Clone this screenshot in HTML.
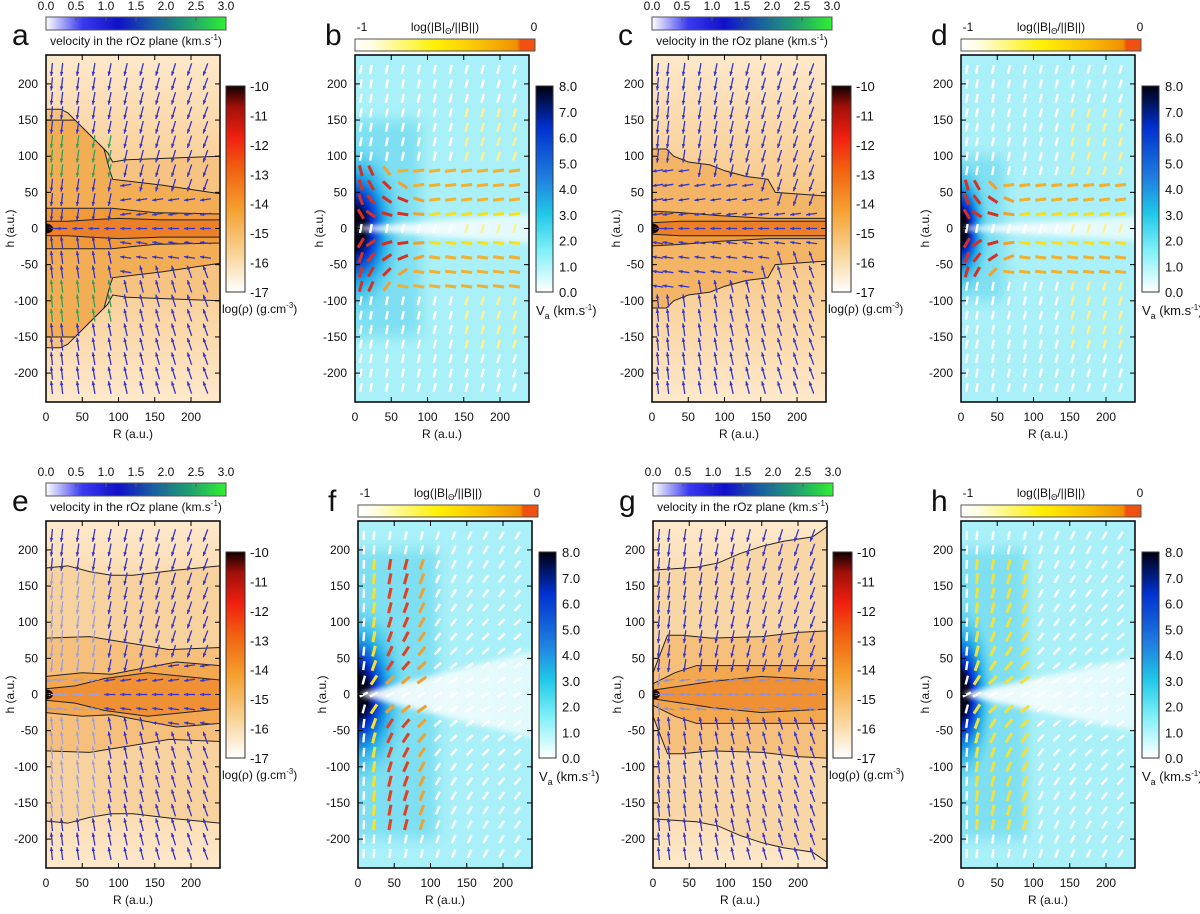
<!DOCTYPE html>
<html><head><meta charset="utf-8"><style>
body{margin:0;background:#fff;}
svg text{font-family:"Liberation Sans",sans-serif;}
</style></head><body>
<svg id="fig" xmlns="http://www.w3.org/2000/svg" width="1200" height="909" viewBox="0 0 1200 909">
<defs>
<filter id="blur" x="-50%" y="-50%" width="200%" height="200%"><feGaussianBlur stdDeviation="7"/></filter>
<filter id="blur2" x="-50%" y="-50%" width="200%" height="200%"><feGaussianBlur stdDeviation="3"/></filter>
<linearGradient id="gVel" x1="0" x2="1" y1="0" y2="0"><stop offset="0" stop-color="#ffffff"/><stop offset="0.2" stop-color="#3a3af0"/><stop offset="0.4" stop-color="#1010c8"/><stop offset="0.6" stop-color="#1a60a0"/><stop offset="0.8" stop-color="#20a070"/><stop offset="1" stop-color="#30f030"/></linearGradient>
<linearGradient id="gB" x1="0" x2="1" y1="0" y2="0"><stop offset="0" stop-color="#ffffff"/><stop offset="0.1" stop-color="#fffde0"/><stop offset="0.45" stop-color="#fff000"/><stop offset="0.7" stop-color="#f8c000"/><stop offset="0.9" stop-color="#f09000"/><stop offset="0.92" stop-color="#f05010"/><stop offset="1" stop-color="#f05010"/></linearGradient>
<linearGradient id="gRho" x1="0" x2="0" y1="1" y2="0"><stop offset="0" stop-color="#ffffff"/><stop offset="0.2" stop-color="#f8d090"/><stop offset="0.4" stop-color="#f5a030"/><stop offset="0.6" stop-color="#f06010"/><stop offset="0.75" stop-color="#f02010"/><stop offset="0.9" stop-color="#a01008"/><stop offset="1" stop-color="#100000"/></linearGradient>
<linearGradient id="gVa" x1="0" x2="0" y1="1" y2="0"><stop offset="0" stop-color="#ffffff"/><stop offset="0.2" stop-color="#80f0f8"/><stop offset="0.38" stop-color="#20c8e8"/><stop offset="0.55" stop-color="#2080e0"/><stop offset="0.8" stop-color="#0030d0"/><stop offset="1" stop-color="#000010"/></linearGradient>
<linearGradient id="gBgRho" x1="0" x2="0" y1="0" y2="1"><stop offset="0" stop-color="#fde9cc"/><stop offset="0.35" stop-color="#f9cd92"/><stop offset="0.5" stop-color="#f6bb70"/><stop offset="0.65" stop-color="#f9cd92"/><stop offset="1" stop-color="#fde9cc"/></linearGradient>
<radialGradient id="gCore" cx="0.5" cy="0.5" r="0.5"><stop offset="0" stop-color="#000010"/><stop offset="0.2" stop-color="#000020"/><stop offset="0.35" stop-color="#0030d0"/><stop offset="0.6" stop-color="#20a8e8"/><stop offset="1" stop-color="#60d8f0" stop-opacity="0"/></radialGradient>
<linearGradient id="gWedge" x1="0" x2="1" y1="0" y2="0"><stop offset="0" stop-color="#ffffff" stop-opacity="0.95"/><stop offset="1" stop-color="#ffffff" stop-opacity="0.6"/></linearGradient>
</defs>
</svg>
<script>
// ---- data arrays ----
const rTicks=[0,50,100,150,200];
const hTicks=[-200,-150,-100,-50,0,50,100,150,200];
const velTicks=['0.0','0.5','1.0','1.5','2.0','2.5','3.0'];
const rhoTicks=['-10','-11','-12','-13','-14','-15','-16','-17'];
const vaTicks=['8.0','7.0','6.0','5.0','4.0','3.0','2.0','1.0','0.0'];
const gridR=[8,22,44,66,88,110,132,154,176,198,220];
const gridH=[-220,-200,-180,-160,-140,-120,-100,-80,-60,-40,-20,0,20,40,60,80,100,120,140,160,180,200,220];
const contA_R=[0,20,30,50,70,85,92,110,240], contA_H=[165,165,160,140,120,105,92,95,100];
const envA_R=[0,40,60,80,88,92,160,240], envA_H=[150,150,130,110,80,68,60,48];
const diskA_R=[0,60,90,150,240], diskA_H=[28,28,28,22,20];
const coreA_R=[0,30,60,100,160,240], coreA_H=[10,10,12,14,12,12];
const contC_R=[0,20,30,50,80,100,130,160,170,240], contC_H=[110,110,100,92,88,80,72,68,50,45];
const diskC_R=[0,40,90,160,240], diskC_H=[24,22,18,14,14];
const coreC_R=[0,40,80,150,240], coreC_H=[8,10,10,10,10];
const contE_R=[0,30,60,90,120,180,240], contE_H=[175,178,170,165,165,172,178];
const envE_R=[0,60,110,170,240], envE_H=[78,80,72,62,65];
const diskE_R=[0,50,90,180,240], diskE_H=[25,30,28,45,40];
const coreE_R=[0,40,80,140,240], coreE_H=[8,12,22,30,20];
const contG_R=[0,60,90,120,150,180,220,240], contG_H=[172,176,182,195,205,212,218,232];
const envG_R=[0,20,40,80,150,200,240], envG_H=[30,82,82,78,80,86,88];
const diskG_R=[0,30,60,120,240], diskG_H=[15,30,40,40,40];
const coreG_R=[0,40,80,150,240], coreG_H=[6,12,18,25,20];

const NS='http://www.w3.org/2000/svg';
const svg=document.getElementById('fig');
function mk(tag,attrs,parent){const e=document.createElementNS(NS,tag);for(const k in attrs)e.setAttribute(k,attrs[k]);(parent||svg).appendChild(e);return e;}
function txt(x,y,s,size,anchor,parent){const t=mk('text',{x:x,y:y,'font-size':size,'text-anchor':anchor||'start',fill:'#111'},parent);t.textContent=s;return t;}

const W=174,H=347;
function panel(letter,L,T,type,cfg){
  const g=mk('g',{});
  
  
  const sx=r=>L+r/240*W, sy=h=>T+H/2-h/240*(H/2);
  const clip='clip'+letter;
  const cp=mk('clipPath',{id:clip},g);mk('rect',{x:L,y:T,width:W,height:H},cp);
  const plot=mk('g',{'clip-path':'url(#'+clip+')'},g);
  
  
  function band(Rs,Hs,fill,stroke){
    let p=[];for(let i=0;i<Rs.length;i++)p.push(sx(Rs[i])+','+sy(Hs[i]));
    for(let i=Rs.length-1;i>=0;i--)p.push(sx(Rs[i])+','+sy(-Hs[i]));
    const e=mk('polygon',{points:p.join(' '),fill:fill,stroke:stroke||'#222','stroke-width':1},plot);
    
    
  }
  if(type==='rho'){
    mk('rect',{x:L,y:T,width:W,height:H,fill:'url(#gBgRho)'},plot);
    cfg.bands.forEach(b=>band(b[0],b[1],b[2]));
    mk('ellipse',{cx:L,cy:sy(0),rx:7,ry:5,fill:'#200800'},plot);
    gridR.forEach(R=>gridH.forEach(h=>{
      const inside=Math.abs(h)<cfg.disk(R);
      let dx,dy;
      if(inside){dx=-1;dy=-0.15*Math.sign(h);}else{dx=-0.3*(R/240+0.3);dy=-Math.sign(h||1);}
      const n=Math.hypot(dx,dy),len=inside?11:13;
      const x1=sx(R),y1=sy(h);
      const col=cfg.arrowCol(R,h);
      const a=mk('g',{},plot);
      
      
      mk('line',{x1:x1-dx/n*len/2,y1:y1+(dy/n)*len/2,x2:x1+dx/n*len/2,y2:y1-(dy/n)*len/2,stroke:col,'stroke-width':1.3},a);
      const tx=x1+dx/n*len/2,ty=y1-(dy/n)*len/2,ux=dx/n,uy=-dy/n;
      mk('polygon',{points:`${tx},${ty} ${tx-ux*4-uy*1.8},${ty-uy*4+ux*1.8} ${tx-ux*4+uy*1.8},${ty-uy*4-ux*1.8}`,fill:col},a);
    }));
  } else {
    mk('rect',{x:L,y:T,width:W,height:H,fill:'#aaf0f8'},plot);
    mk('rect',{x:L-20,y:sy(cfg.halo),width:sx(cfg.haloR)-L+20,height:sy(-cfg.halo)-sy(cfg.halo),fill:'#60d4ee',opacity:0.6,filter:'url(#blur)'},plot);
    mk('ellipse',{cx:L,cy:sy(0),rx:cfg.coreRx,ry:cfg.coreRy,fill:'url(#gCore)'},plot);
    const w=cfg.wedge;
    mk('polygon',{points:`${sx(5)},${sy(2)} ${sx(260)},${sy(w)} ${sx(260)},${sy(-w)} ${sx(5)},${sy(-2)}`,fill:'url(#gWedge)',filter:'url(#blur2)'},plot);
    gridR.forEach(R=>gridH.forEach(h=>{
      const s=cfg.seg(R,h);
      const len=s.len||9,ang=s.ang;
      const cx=sx(R),cy=sy(h),dx=Math.sin(ang)*len/2,dy=-Math.cos(ang)*len/2;
      const l=mk('line',{x1:cx-dx,y1:cy-dy,x2:cx+dx,y2:cy+dy,stroke:s.col,'stroke-width':s.w||2.6,'stroke-linecap':'butt'},plot);
      
      
    }));
  }
  mk('rect',{x:L,y:T,width:W,height:H,fill:'none',stroke:'#000','stroke-width':1.5},g);
  rTicks.forEach(r=>{mk('line',{x1:sx(r),y1:T+H,x2:sx(r),y2:T+H-5,stroke:'#000'},g);mk('line',{x1:sx(r),y1:T,x2:sx(r),y2:T+5,stroke:'#000'},g);
    const t=txt(sx(r),T+H+19,String(r),12,'middle',g);});
  hTicks.forEach(h=>{mk('line',{x1:L,y1:sy(h),x2:L+5,y2:sy(h),stroke:'#000'},g);mk('line',{x1:L+W,y1:sy(h),x2:L+W-5,y2:sy(h),stroke:'#000'},g);
    const t=txt(L-8,sy(h)+4,String(h),12,'end',g);});
  const xl=txt(L+W/2,T+H+36,'R (a.u.)',12,'middle',g);
  
  const yl=txt(0,0,'h (a.u.)',12,'middle',g);yl.setAttribute('transform',`translate(${L-32},${T+H/2}) rotate(-90)`);
  
  const cbx=L+W+7;
  if(type==='rho'){
    const letterT=txt(L-34,T-10,letter,30,'start',g);
    const tb=mk('rect',{x:L,y:T-38,width:180,height:13,fill:'url(#gVel)',stroke:'#555'},g);
    
    velTicks.forEach((s,i)=>{const x=L+i*30;mk('line',{x1:x,y1:T-38,x2:x,y2:T-34,stroke:'#555'},g);txt(x,T-45,s,12,'middle',g);});
    txt(L+90,T-10,'',12,'middle',g).innerHTML='velocity in the rOz plane (km.s<tspan font-size="8" dy="-5">-1</tspan><tspan dy="5">)</tspan>';
    const sb=mk('rect',{x:cbx-1,y:T+31,width:19,height:206,fill:'url(#gRho)',stroke:'#333'},g);
    
    rhoTicks.forEach((s,i)=>txt(cbx+23,T+36+i*206/7,s,13,'start',g));
    txt(cbx-5,T+258,'',12,'start',g).innerHTML='log(ρ) (g.cm<tspan font-size="8" dy="-5">-3</tspan><tspan dy="5">)</tspan>';
  } else {
    const letterT=txt(L-30,T-10,letter,30,'start',g);
    const tb=mk('rect',{x:L,y:T-16,width:180,height:12,fill:'url(#gB)',stroke:'#555'},g);
    
    txt(L+7,T-24,'-1',12,'middle',g);txt(L+179,T-24,'0',12,'middle',g);
    txt(L+90,T-24,'',12,'middle',g).innerHTML='log(|B|<tspan font-size="8" dy="3">Θ</tspan><tspan dy="-3">/||B||)</tspan>';
    const sb=mk('rect',{x:cbx,y:T+31,width:17,height:206,fill:'url(#gVa)',stroke:'#333'},g);
    
    vaTicks.forEach((s,i)=>txt(cbx+23,T+36+i*206/8,s,13,'start',g));
    txt(cbx,T+260,'',13,'start',g).innerHTML='V<tspan font-size="9" dy="4">a</tspan><tspan dy="-4"> (km.s</tspan><tspan font-size="8" dy="-5">-1</tspan><tspan dy="5">)</tspan>';
  }
}
function interp(Rs,Hs,R){for(let i=1;i<Rs.length;i++){if(R<=Rs[i]){const t=(R-Rs[i-1])/(Rs[i]-Rs[i-1]);return Hs[i-1]+t*(Hs[i]-Hs[i-1]);}}return Hs[Hs.length-1];}
const blue=()=>'#3535c8';
panel('a',46,55,'rho',{bands:[[contA_R,contA_H,'#f6c383'],[envA_R,envA_H,'#f3ad55'],[diskA_R,diskA_H,'#f09a3a'],[coreA_R,coreA_H,'#ec8028']],disk:R=>R>90?interp(envA_R,envA_H,R)-5:12,arrowCol:(R,h)=>(R<90&&Math.abs(h)<140&&Math.abs(h)>60)?'#30a060':blue()});
panel('c',652,55,'rho',{bands:[[contC_R,contC_H,'#f4b466'],[diskC_R,diskC_H,'#f09a3a'],[coreC_R,coreC_H,'#ec8028']],disk:R=>interp(contC_R,contC_H,R)-10,arrowCol:blue});
panel('e',46,521,'rho',{bands:[[contE_R,contE_H,'#f8d29e'],[envE_R,envE_H,'#f6c07c'],[diskE_R,diskE_H,'#f3a850'],[coreE_R,coreE_H,'#ef9035']],disk:R=>interp(diskE_R,diskE_H,R),arrowCol:(R,h)=>(R<70&&Math.abs(h)<180)?'#a0a0d8':blue()});
panel('g',653,521,'rho',{bands:[[contG_R,contG_H,'#f9d6a6'],[envG_R,envG_H,'#f6c07c'],[diskG_R,diskG_H,'#f3a850'],[coreG_R,coreG_H,'#ef9035']],disk:R=>interp(diskG_R,diskG_H,R),arrowCol:(R,h)=>Math.abs(h)<30?'#9090d0':blue()});
function segBD(scale){return (R,h)=>{
  const r=Math.hypot(R,h),ah=Math.abs(h),s=Math.sign(h)||1;
  if(r<100*scale&&ah>8){const red=r>20&&r<85*scale;return {ang:Math.atan2(h,R)+Math.PI/2*0.9*s, col:red?'#d83020':'#f0a030',len:11,w:3};}
  if(ah>8&&ah<85*scale&&R>60){return {ang:Math.PI/2-s*0.12,col:ah<30?'#f8e020':'#f0b030',len:11,w:3};}
  const yl=R>150&&ah<170;return {ang:0.18+R/1500,col:yl?'#fff090':'#ffffff',len:9,w:2.4};
};}
function segFH(strong){return (R,h)=>{
  const ah=Math.abs(h),s=Math.sign(h)||1;
  const ang=s*Math.atan2(R,ah)*0.7;
  if(R<110&&R>15&&ah<190&&ah>10){const c=strong?(R>40&&R<80&&ah>30?'#e04020':(R<40?'#f8e030':'#f0a030')):'#f0e040';return {ang:s>0?ang:Math.PI-ang,col:c,len:11,w:3};}
  return {ang:s>0?ang:Math.PI-ang,col:'#ffffff',len:9,w:2.4};
};}
panel('b',355,55,'va',{halo:150,haloR:90,coreRx:50,coreRy:90,wedge:22,seg:segBD(1)});
panel('d',961,55,'va',{halo:100,haloR:60,coreRx:30,coreRy:70,wedge:18,seg:segBD(0.8)});
panel('f',358,521,'va',{halo:200,haloR:110,coreRx:50,coreRy:95,wedge:65,seg:segFH(true)});
panel('h',961,521,'va',{halo:200,haloR:90,coreRx:35,coreRy:95,wedge:55,seg:segFH(false)});
</script>
</body></html>
